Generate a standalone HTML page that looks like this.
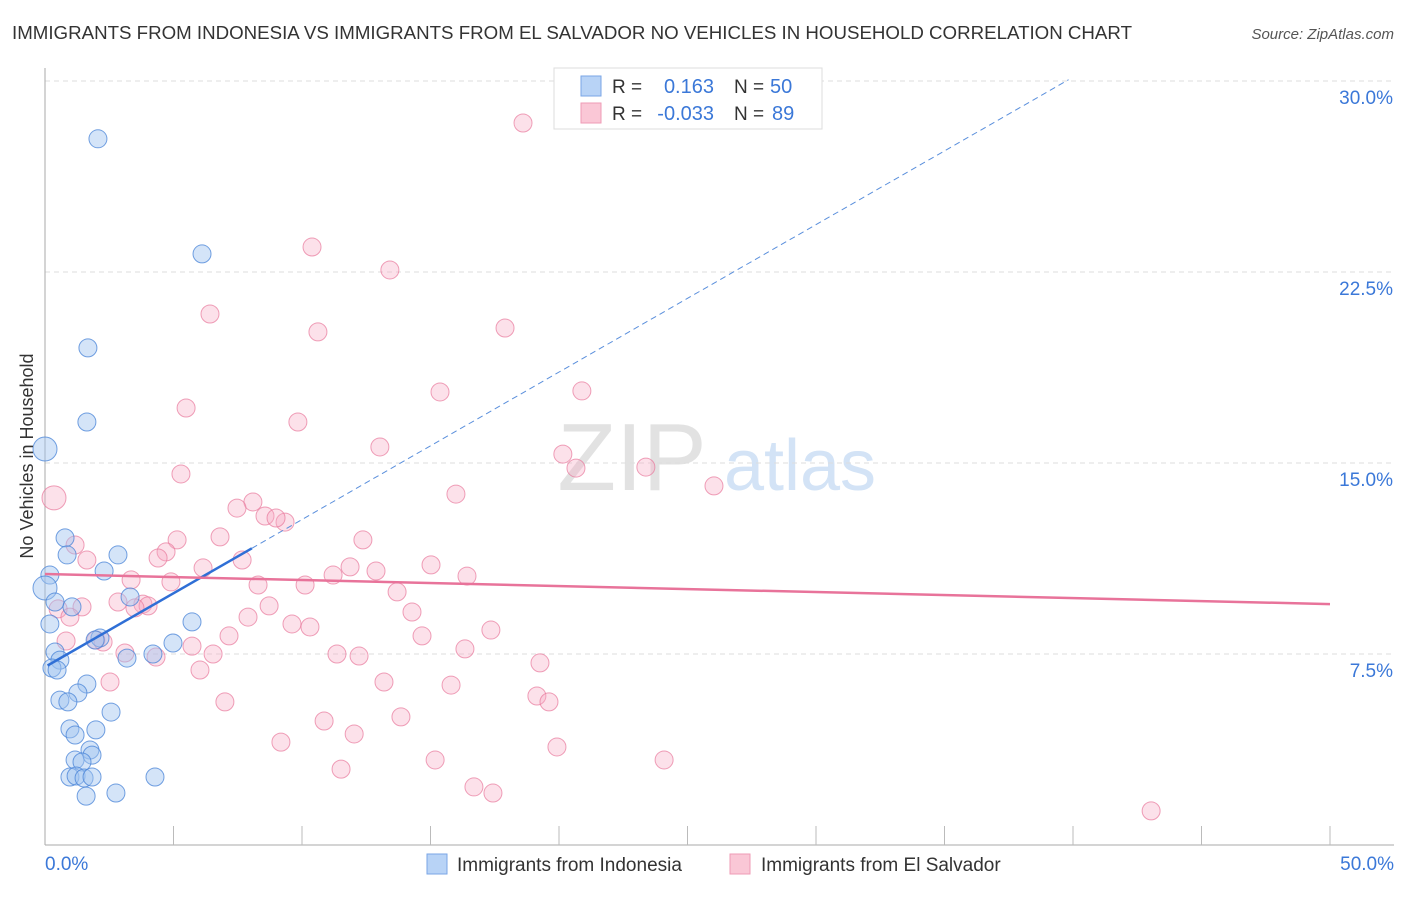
<!DOCTYPE html>
<html><head><meta charset="utf-8"><style>
body{margin:0;background:#fff;font-family:"Liberation Sans",sans-serif;}
svg text{font-family:"Liberation Sans",sans-serif;}
</style></head><body>
<svg id="chart" width="1406" height="892" xmlns="http://www.w3.org/2000/svg">
<text x="12" y="39" font-size="18" fill="#333" textLength="1120" lengthAdjust="spacingAndGlyphs">IMMIGRANTS FROM INDONESIA VS IMMIGRANTS FROM EL SALVADOR NO VEHICLES IN HOUSEHOLD CORRELATION CHART</text>
<text x="1394" y="39" font-size="15" fill="#555" text-anchor="end" font-style="italic">Source: ZipAtlas.com</text>
<g>
<text x="632" y="490" font-size="96" fill="#e2e2e2" text-anchor="middle" font-family="Liberation Serif, serif">ZIP</text>
<text x="800" y="490" font-size="72" fill="#d3e3f6" text-anchor="middle">atlas</text>
</g>
<g id="grid"></g>
<g id="axes"></g>
<g id="pts"></g>
<g id="lines"></g>
<text transform="translate(33,456) rotate(-90)" font-size="18" fill="#333" text-anchor="middle">No Vehicles in Household</text>
<g>
<rect x="554" y="68" width="268" height="61" fill="#fff" stroke="#ddd"/>
<rect x="581" y="76" width="20" height="20" fill="#b8d3f6" stroke="#7aa6e6"/>
<rect x="581" y="103" width="20" height="20" fill="#fac7d6" stroke="#ef9bb6"/>
<text x="612" y="93" font-size="19" fill="#333">R =</text>
<text x="714" y="93" font-size="20" fill="#3b78d8" text-anchor="end">0.163</text>
<text x="734" y="93" font-size="19" fill="#333">N =</text>
<text x="770" y="93" font-size="20" fill="#3b78d8">50</text>
<text x="612" y="120" font-size="19" fill="#333">R =</text>
<text x="714" y="120" font-size="20" fill="#3b78d8" text-anchor="end">-0.033</text>
<text x="734" y="120" font-size="19" fill="#333">N =</text>
<text x="772" y="120" font-size="20" fill="#3b78d8">89</text>
</g>
<g>
<rect x="427" y="854" width="20" height="20" fill="#b8d3f6" stroke="#7aa6e6"/>
<text x="457" y="871" font-size="19" fill="#333">Immigrants from Indonesia</text>
<rect x="730" y="854" width="20" height="20" fill="#fac7d6" stroke="#ef9bb6"/>
<text x="761" y="871" font-size="19" fill="#333">Immigrants from El Salvador</text>
</g>
</svg>
<script>
const yTicks=[7.5,15,22.5,30];
const yTickLabels=["7.5%","15.0%","22.5%","30.0%"];
const xTickLabels=["0.0%","50.0%"];
const indoX=[2.06,6.11,1.67,1.63,0,0.78,0.86,2.84,0.19,2.30,0,0.39,1.05,3.31,0.19,5.72,2.14,0.39,0.58,4.20,3.19,4.98,0.27,0.47,1.63,1.28,0.58,0.89,2.57,0.97,1.98,1.17,1.75,1.17,1.83,1.44,0.97,1.21,1.52,1.83,1.60,2.76,4.28,1.95];
const indoY=[27.73,23.21,19.52,16.61,15.55,12.06,11.39,11.39,10.60,10.76,10.09,9.54,9.35,9.74,8.68,8.76,8.13,7.58,7.26,7.50,7.34,7.93,6.95,6.87,6.32,5.97,5.69,5.62,5.22,4.56,4.52,4.32,3.73,3.34,3.53,3.26,2.67,2.71,2.63,2.67,1.92,2.04,2.67,8.05];
const indoBig=[4,10];
const salX=[18.6,10.39,13.42,6.42,10.62,17.9,15.37,20.89,5.49,9.84,13.03,20.15,20.66,23.38,5.29,26.03,15.99,0.35,8.09,7.47,8.56,9.34,8.99,6.81,5.14,12.37,1.17,4.71,4.40,1.63,7.67,6.15,15.02,11.87,12.88,11.21,16.42,3.35,4.90,8.29,10.12,13.70,2.84,3.81,4.01,3.50,1.44,0.51,8.72,14.28,0.97,7.90,9.61,10.31,17.35,7.16,14.67,1.98,2.26,0.82,5.72,3.11,4.32,6.54,11.36,12.22,16.34,19.26,6.03,2.53,13.19,15.80,19.14,19.61,7.00,13.85,10.86,12.03,9.18,19.92,15.18,24.09,11.52,16.69,17.43,43.04];
const salY=[28.35,23.48,22.58,20.85,20.15,20.30,17.79,17.83,17.16,16.61,15.63,15.35,14.80,14.84,14.57,14.10,13.78,13.63,13.47,13.23,12.92,12.68,12.84,12.10,11.98,11.98,11.78,11.51,11.27,11.19,11.19,10.88,11.00,10.92,10.76,10.60,10.56,10.41,10.33,10.21,10.21,9.94,9.54,9.46,9.39,9.31,9.35,9.27,9.39,9.15,8.95,8.95,8.68,8.56,8.44,8.21,8.21,8.05,7.97,8.01,7.81,7.54,7.38,7.50,7.50,7.42,7.70,7.15,6.87,6.40,6.40,6.28,5.85,5.62,5.62,5.03,4.87,4.36,4.04,3.85,3.34,3.34,2.98,2.28,2.04,1.34];
const salBig=[17];
const indoFit=[6.99,0.579];
const salFit=[10.64,-0.0236];

const NS="http://www.w3.org/2000/svg";
const X0=45,X1=1330,Y0=845,PX_PER_PCT=191/7.5;
function sx(v){return X0+(X1-X0)*v/50;}
function sy(v){return Y0-v*PX_PER_PCT;}
function mk(tag,attrs,parent){const e=document.createElementNS(NS,tag);for(const k in attrs)e.setAttribute(k,attrs[k]);document.getElementById(parent).appendChild(e);return e;}

yTicks.forEach((t,i)=>{
  const g=mk('line',{x1:X0,x2:1394,y1:sy(t),y2:sy(t),stroke:'#ddd','stroke-dasharray':'5,4'},'grid');
  
  
  const l=mk('text',{x:1393,y:sy(t)+23,'font-size':19,fill:'#3b78d8','text-anchor':'end'},'grid');
  l.textContent=yTickLabels[i];
  
  
});
const ax=mk('line',{x1:X0,x2:X0,y1:68,y2:Y0,stroke:'#aaa'},'axes');


const bx=mk('line',{x1:X0,x2:1394,y1:Y0,y2:Y0,stroke:'#aaa'},'axes');


for(let i=1;i<=10;i++){
  const t=mk('line',{x1:sx(i*5),x2:sx(i*5),y1:Y0,y2:Y0-19,stroke:'#bbb'},'axes');
  
  
}
[0,50].forEach((v,i)=>{
  const t=mk('text',{x:i?1394:45,y:870,'font-size':19,fill:'#3b78d8','text-anchor':i?'end':'start'},'axes');
  t.textContent=xTickLabels[i];
  
  
});
salX.forEach((v,i)=>{
  const c=mk('circle',{cx:sx(v),cy:sy(salY[i]),r:salBig.includes(i)?12:9,fill:'rgba(247,170,195,0.35)',stroke:'rgba(232,120,155,0.7)','stroke-width':1},'pts');
  
  
});
indoX.forEach((v,i)=>{
  const c=mk('circle',{cx:sx(v),cy:sy(indoY[i]),r:indoBig.includes(i)?12:9,fill:'rgba(160,195,240,0.45)',stroke:'rgba(70,130,215,0.75)','stroke-width':1},'pts');
  
  
});
const iend=(30.05-indoFit[0])/indoFit[1];
const l1=mk('line',{x1:sx(0.1),y1:sy(indoFit[0]+indoFit[1]*0.1),x2:sx(8.05),y2:sy(indoFit[0]+indoFit[1]*8.05),stroke:'#2f6fd6','stroke-width':2.5},'lines');


const l2=mk('line',{x1:sx(8.05),y1:sy(indoFit[0]+indoFit[1]*8.05),x2:sx(iend),y2:sy(30.05),stroke:'#5a8fdc','stroke-width':1,'stroke-dasharray':'6,4'},'lines');


const l3=mk('line',{x1:sx(0),y1:sy(salFit[0]),x2:sx(50),y2:sy(salFit[0]+salFit[1]*50),stroke:'#e8739a','stroke-width':2.5},'lines');


</script>
</body></html>
